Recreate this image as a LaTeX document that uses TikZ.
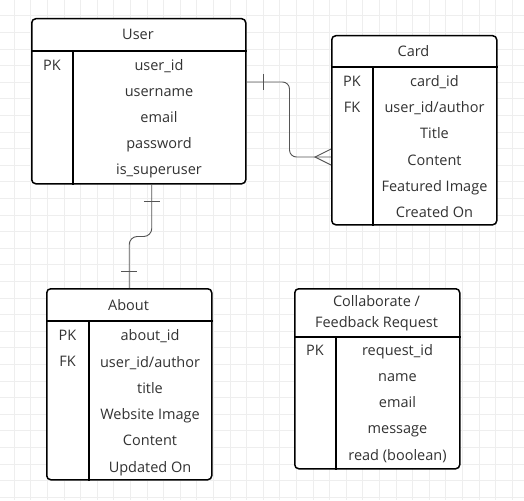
\documentclass[tikz,border=0pt]{standalone}
\usepackage{fontspec}
\setmainfont{Open Sans}
\definecolor{ink}{RGB}{50, 50, 50}
\definecolor{wire}{RGB}{85, 85, 85}
\definecolor{paper}{RGB}{238, 238, 238}
\newcommand*{\rh}{26.1}

\begin{document}
\begin{tikzpicture}[
   x=1pt, y=-1pt,
   entity/.style={rectangle, draw=black, fill=white, line width=1.5, rounded corners=4,
                  inner sep=0, anchor=north west},
   head/.style={font=\fontsize{14.5}{21}\selectfont, text=ink, inner sep=0, align=center},
   attr/.style={font=\fontsize{14.5}{21}\selectfont, text=ink, inner sep=0, anchor=base},
   rel/.style={draw=wire, line width=0.9},
   gridline/.style={draw=paper, line width=0.5}
  ]

  % Canvas and grid
  \useasboundingbox (0, 0) rectangle (524, 500);
  \fill[white] (0, 0) rectangle (524, 500);
  \begin{scope}
    \clip (0, 0) rectangle (524, 500);
    \foreach \k in {0,...,32} {
      \draw[gridline] ({-2.6 + 16.6 * \k}, 0) -- ++(0, 500);
      \draw[gridline] (0, {-0.9 + 16.6 * \k}) -- ++(524, 0);
    }
  \end{scope}

  % Entities
  \node[entity, minimum width=214pt, minimum height=165pt] (user) at (31, 18) {};
  \node[entity, minimum width=165pt, minimum height=189pt] (card) at (331, 35) {};
  \node[entity, minimum width=165pt, minimum height=191pt] (about) at (46, 288) {};
  \node[entity, minimum width=165pt, minimum height=180pt] (collab) at (294, 288) {};

  \foreach \n/\hd/\c in {user/33/42, card/32/42, about/33/43, collab/49/42} {
    \draw[line width=1.5] ([yshift=-\hd pt]\n.north west) -- ([yshift=-\hd pt]\n.north east);
    \draw[line width=1.5] ([shift={(\c, \hd)}]\n.north west) -- ([xshift=\c pt]\n.south west);
  }

  % Headers
  \node[head, anchor=base] (user-h) at (138, 40) {User};
  \node[head, anchor=base] (card-h) at (413.5, 57) {Card};
  \node[head, anchor=base] (about-h) at (128.5, 310.5) {About};
  \node[head] (collab-h) at (376.5, 313) {Collaborate /\\Feedback Request};

  % Keys
  \node[attr] (user-pk) at (52, 70.5) {PK};
  \node[attr] (card-pk) at (352, 86.7) {PK};
  \node[attr] (card-fk) at (352, 86.7 + \rh) {FK};
  \node[attr] (about-pk) at (67.5, 340.7) {PK};
  \node[attr] (about-fk) at (67.5, 340.7 + \rh) {FK};
  \node[attr] (collab-pk) at (315, 355) {PK};

  % Fields
  \foreach \t [count=\i from 0] in {user\_id, username, email, password, is\_superuser}
    \node[attr] (user-\i) at (159, {70.5 + \rh * \i}) {\t};
  \foreach \t [count=\i from 0] in {card\_id, {user\_id/author}, Title, Content, Featured Image, Created On}
    \node[attr] (card-\i) at (434.5, {86.7 + \rh * \i}) {\t};
  \foreach \t [count=\i from 0] in {about\_id, {user\_id/author}, title, Website Image, Content, Updated On}
    \node[attr] (about-\i) at (150, {340.7 + 26.3 * \i}) {\t};
  \foreach \t [count=\i from 0] in {request\_id, name, email, message, read (boolean)}
    \node[attr] (collab-\i) at (397.5, {355 + 26.3 * \i}) {\t};

  % Relations
  \coordinate (u-out) at ([yshift=-64pt]user.north east);
  \coordinate (c-in) at ([yshift=-122pt]card.north west);
  \draw[rel, rounded corners=7] (u-out) -- ++(43, 0) |- (c-in);
  \draw[rel] ([shift={(17, -8)}]u-out) -- ++(0, 16);
  \draw[rel] ([shift={(0, -8)}]c-in) -- ([xshift=-16pt]c-in) -- ([shift={(0, 8)}]c-in);

  \coordinate (u-down) at ([xshift=13pt]user.south);
  \draw[rel, rounded corners=8] (u-down) -- ++(0, 52) -| (about.north);
  \draw[rel] ([shift={(-8, 17)}]u-down) -- ++(16, 0);
  \draw[rel] ([shift={(-8, -17)}]about.north) -- ++(16, 0);

\end{tikzpicture}
\end{document}
